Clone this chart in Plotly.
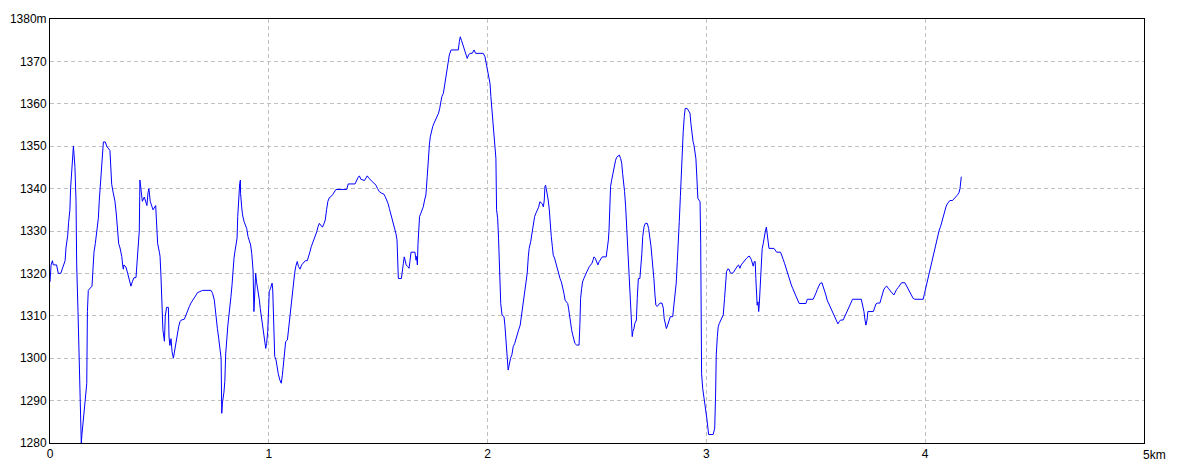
import plotly.graph_objects as go

# distance along route (m) and elevation (m)
dist_m = [0, 5, 11, 15, 30, 38, 49, 61, 69, 73, 81, 85, 91, 94, 99, 104, 107, 110, 114, 119, 122, 128, 133, 137, 140, 143, 146, 152, 158, 163, 168, 171, 175, 192, 197, 201, 207, 212, 216, 221, 225, 230, 236, 241, 244, 253, 259, 274, 279, 282, 289, 297, 303, 308, 314, 320, 328, 332, 335, 338, 347, 355, 360, 366, 370, 376, 384, 393, 396, 401, 405, 408, 411, 416, 422, 431, 437, 443, 448, 452, 458, 465, 471, 483, 488, 492, 500,
          503, 507, 512, 516, 523, 527, 533, 541, 544, 548, 553, 558, 564, 570, 576, 582, 588, 594, 600, 614, 621, 629, 637, 644, 652, 660, 667, 675, 685, 697, 736, 743, 751, 758, 765, 771, 775, 782, 785, 788, 795, 799, 803, 808, 813, 818, 823, 827, 832, 836, 841, 845, 850, 855, 858, 862, 867, 870, 871, 876, 880, 887, 893, 899, 905, 911, 917, 922, 928, 932, 935, 940, 944, 951, 957, 961, 966, 970, 975, 980, 986, 990, 995, 999, 1002, 1008, 1015, 1018, 1021,
          1027, 1033, 1037, 1043, 1050, 1057, 1062, 1068, 1072, 1077, 1085, 1089, 1095, 1100, 1104, 1109, 1114, 1118, 1123, 1130, 1136, 1143, 1150, 1158, 1167, 1176, 1182, 1188, 1194, 1200, 1206, 1213, 1219, 1225, 1231, 1237, 1245, 1252, 1258, 1264, 1270, 1277, 1284, 1292, 1299, 1307, 1356, 1363, 1394, 1401, 1409, 1414, 1421, 1437, 1444, 1450, 1458, 1466, 1473, 1481, 1490, 1497, 1505, 1516, 1526, 1532, 1539, 1545, 1551, 1557, 1563, 1569, 1575, 1581, 1586,
          1589, 1592, 1606, 1610, 1615, 1619, 1624, 1628, 1635, 1641, 1645, 1650, 1668, 1673, 1676, 1679, 1682, 1685, 1689, 1695, 1702, 1706, 1712, 1718, 1724, 1729, 1734, 1738, 1743, 1749, 1755, 1763, 1770, 1776, 1781, 1785, 1791, 1798, 1802, 1807, 1811, 1816, 1820, 1825, 1833, 1866, 1871, 1875, 1881, 1887, 1894, 1901, 1907, 1913, 1919, 1930, 1938, 1945, 1980, 1988, 1994, 2000, 2006, 2011, 2015, 2020, 2025, 2029, 2034, 2038, 2041, 2046, 2050, 2055, 2060, 2066, 2075, 2079, 2084, 2090, 2094, 2099, 2105, 2111, 2117, 2124, 2130, 2136, 2142, 2149,
          2154, 2159, 2163, 2169, 2175, 2181, 2186, 2190, 2197, 2201, 2206, 2210, 2215, 2221, 2227, 2233, 2239, 2244, 2250, 2255, 2259, 2262, 2265, 2268, 2273, 2277, 2282, 2286, 2291, 2296, 2300, 2306, 2312, 2318, 2325, 2331, 2337, 2343, 2349, 2354, 2360, 2366, 2370, 2375, 2380, 2384, 2389, 2393, 2399, 2407, 2418, 2422, 2425, 2430, 2434, 2440, 2446, 2453, 2459, 2465, 2471, 2477, 2483, 2486, 2492, 2498, 2504, 2510, 2517, 2524, 2542, 2547, 2552, 2555, 2558, 2562, 2567, 2571, 2576, 2581, 2585, 2590, 2596, 2602, 2608, 2613, 2617, 2622, 2626, 2631, 2635, 2640, 2645, 2649, 2654, 2658, 2661, 2664, 2669, 2673, 2680, 2684, 2689,
          2696, 2701, 2705, 2709, 2715, 2721, 2730, 2736, 2742, 2747, 2751, 2756, 2760, 2765, 2769, 2775, 2782, 2788, 2797, 2803, 2807, 2812, 2817, 2823, 2829, 2835, 2846, 2852, 2858, 2862, 2867, 2871, 2876, 2881, 2885, 2890, 2894, 2899, 2903, 2912, 2919, 2925, 2929, 2934, 2939, 2943, 2948, 2952, 2957, 2961, 2966, 2971, 2974, 2978, 2983, 2989, 2993, 2998, 3002, 3007, 3010, 3031, 3038, 3042, 3045, 3050, 3054, 3059, 3065, 3071, 3077, 3083, 3088, 3092, 3097, 3103, 3109, 3117, 3123, 3129, 3135, 3141, 3147, 3153, 3159, 3166, 3172, 3178, 3184, 3190, 3196,
          3205, 3210, 3214, 3219, 3223, 3226, 3230, 3232, 3236, 3239, 3242, 3245, 3248, 3252, 3255, 3260, 3264, 3269, 3274, 3278, 3281, 3286, 3309, 3315, 3321, 3339, 3345, 3351, 3357, 3364, 3370, 3376, 3382, 3388, 3394, 3400, 3406, 3412, 3418, 3424, 3455, 3461, 3488, 3495, 3501, 3507, 3513, 3519, 3528, 3534, 3540, 3546, 3552, 3559, 3565, 3571, 3577, 3583, 3589, 3595, 3601, 3607, 3613, 3625, 3632, 3638, 3644, 3650, 3656, 3662, 3668, 3708, 3714, 3720, 3725, 3729, 3734, 3738, 3763, 3769, 3775, 3781, 3793,
          3799, 3804, 3810, 3817, 3824, 3831, 3839, 3848, 3857, 3863, 3869, 3877, 3884, 3892, 3907, 3915, 3923, 3930, 3938, 3945, 3953, 3991, 3997, 4003, 4009, 4016, 4022, 4028, 4034, 4040, 4046, 4052, 4058, 4064, 4070, 4076, 4082, 4089, 4095, 4101, 4107, 4113, 4125, 4131, 4137, 4144, 4150, 4154, 4159, 4162, 4165]

elev_m = [1318, 1322, 1323, 1322, 1322, 1320, 1320, 1322, 1323, 1326, 1329, 1332, 1335, 1340, 1345, 1348, 1350, 1348, 1345, 1337, 1322, 1311, 1302, 1293, 1285, 1280, 1282, 1285, 1288, 1291, 1294, 1311, 1316, 1317, 1322, 1325, 1327, 1329, 1331, 1333, 1337, 1341, 1344, 1348, 1351, 1351, 1350, 1349, 1345, 1341, 1339, 1337, 1334, 1330, 1327, 1326, 1324, 1322, 1321, 1322, 1321.5, 1320, 1319, 1318, 1317, 1318, 1319, 1319, 1321, 1324, 1327, 1330, 1342, 1339, 1337, 1338, 1337, 1336, 1339, 1340, 1337, 1336, 1335, 1336, 1331, 1327, 1325,
          1324, 1319.6, 1311.4, 1306.7, 1304, 1310, 1312, 1312, 1305, 1303, 1304.6, 1301.5, 1300, 1302, 1303.5, 1305.5, 1307.4, 1308.6, 1309, 1309.2, 1310.2, 1311.4, 1312.2, 1313, 1313.7, 1314.5, 1315.1, 1315.5, 1315.7, 1316, 1316, 1315.3, 1313.7, 1309.8, 1307, 1304.7, 1302.3, 1300, 1287, 1289.4, 1292, 1294.5, 1301, 1305, 1307.8, 1310.2, 1312.2, 1314.5, 1317.3, 1320.8, 1323.6, 1325.1, 1326.7, 1328.3, 1333.4, 1338.9, 1341.2, 1342, 1338.9, 1335.7, 1333.8, 1332.2, 1331.3, 1330.6, 1328.7, 1327.5, 1326.7, 1324.7, 1320.8, 1311, 1315.3, 1320, 1318, 1316, 1313.7, 1311.7, 1309.8, 1308.2, 1306.3, 1303.9, 1302.3, 1303.5, 1306.3, 1311.4, 1315.7, 1316.5, 1317.7, 1316.1, 1309.8,
          1300.4, 1299.6, 1298, 1296.4, 1294.9, 1294.1, 1296, 1298.8, 1301.9, 1303.9, 1304.3, 1306.3, 1308.6, 1311.4, 1314.1, 1316.5, 1318.8, 1320, 1321.6, 1322.8, 1321.6, 1321, 1322, 1322.4, 1323, 1323, 1323.9, 1325.1, 1326.3, 1327.1, 1327.9, 1328.7, 1329.8, 1331, 1331.8, 1331.4, 1330.9, 1331.7, 1332.6, 1335, 1337, 1337.9, 1338.1, 1338.6, 1339.3, 1339.8, 1339.8, 1341.1, 1341.1, 1342, 1342.7, 1343, 1342.2, 1341.9, 1342.6, 1343, 1342.4, 1342, 1341.6, 1341.2, 1340.8, 1340, 1339.3, 1338.9, 1338.7, 1338.1, 1337.3, 1336.5, 1335.3, 1334.2, 1333, 1331.8, 1330.6, 1329.4, 1327.9,
          1323.9, 1318.8, 1318.8, 1321.2, 1322.4, 1323.9, 1323.1, 1322, 1321.6, 1321.2, 1322.8, 1325, 1325, 1323.1, 1324, 1322, 1327.1, 1332.2, 1333.4, 1334.2, 1335, 1335.7, 1337.3, 1338.5, 1342.8, 1348.3, 1350.3, 1352.2, 1353.4, 1354.6, 1355.4, 1356.2, 1357, 1357.8, 1358.9, 1360.5, 1361.7, 1362.5, 1363.9, 1365.6, 1367.2, 1368.8, 1370.3, 1371.5, 1372.7, 1372.7, 1374.7, 1375.8, 1374.9, 1373.9, 1373.1, 1372.1, 1370.7, 1371.5, 1371.9, 1371.9, 1372.7, 1371.9, 1371.9, 1371.1, 1369.2, 1367.6, 1366.4, 1364.8, 1361.7, 1358.1, 1354.6, 1351.9, 1349.5, 1347.1, 1335, 1333, 1328.3, 1319.2, 1312.9, 1310.2, 1309.8, 1307.8, 1303.1, 1300, 1297.2, 1298.8, 1300, 1300.8, 1302.7, 1303.5, 1304.7, 1305.5, 1306.7, 1307.8,
          1309.8, 1312.2, 1314.1, 1316.1, 1317.7, 1320, 1323.9, 1325.9, 1327.5, 1329.1, 1330.2, 1331.8, 1333.4, 1334.2, 1334.8, 1335.6, 1336.9, 1336.7, 1336.4, 1335.7, 1337.3, 1340.5, 1340.8, 1340, 1338.9, 1337.3, 1335, 1331.4, 1328.7, 1326.3, 1324.3, 1323.6, 1322.4, 1320.8, 1319.6, 1318.8, 1318, 1316.9, 1315.3, 1313.7, 1313.3, 1312.9, 1311.8, 1309.4, 1307.4, 1306.7, 1305.5, 1304.7, 1303.5, 1303.1, 1303.1, 1308.2, 1314.1, 1316.5, 1318, 1318.8, 1319.6, 1320.4, 1321, 1321.6, 1322, 1322.4, 1323.3, 1323.9, 1323.6, 1322.8, 1322, 1322.8, 1323.3, 1323.9, 1323.9, 1325.5, 1327.9, 1330.2, 1335.7, 1340.5, 1342, 1343.2, 1344.4, 1345.6, 1346.7, 1347.4, 1347.7, 1347.9, 1347.1, 1346, 1343.6, 1341.6, 1339.3, 1335.7, 1331.4, 1327.1, 1320.4, 1314.5, 1310.2, 1307.8, 1305.1, 1306.3, 1307, 1308.2, 1309, 1314.1, 1318.8,
          1318.8, 1321.6, 1324.7, 1328.7, 1331, 1331.8, 1331.8, 1330.6, 1328.7, 1326.3, 1323.9, 1321.6, 1318.8, 1314.9, 1312.5, 1312.2, 1312.8, 1313, 1313, 1311.8, 1309.4, 1307.8, 1307, 1307.8, 1309, 1309.8, 1309.8, 1312.5, 1315.3, 1317.7, 1322.8, 1328.7, 1332.2, 1338.1, 1343.6, 1346.4, 1353.4, 1357, 1358.9, 1358.9, 1358.4, 1357.8, 1355.4, 1352.2, 1351.1, 1350.3, 1348.7, 1347.1, 1342, 1337.7, 1337.3, 1336.9, 1327.1, 1296.4, 1292.9, 1290.9, 1289, 1287.8, 1285.8, 1283.5, 1282, 1282, 1283.5, 1291.3, 1300.8, 1305.1, 1307.4, 1308.2, 1309, 1309.6, 1310.2, 1314.1, 1318.8, 1320.4, 1321, 1321, 1320.2, 1320, 1320.2, 1320.8, 1321.2, 1321.7, 1322, 1321.2, 1322, 1322.5, 1323, 1323.2, 1323.6, 1323.9, 1324.1,
          1323.3, 1322.4, 1321.7, 1322.8, 1322.8, 1318.8, 1314.1, 1312.5, 1313.3, 1311, 1313, 1316.9, 1320, 1323.2, 1325.9, 1327.1, 1328.7, 1329.8, 1330.9, 1329.4, 1327.1, 1325.9, 1325.9, 1325.5, 1325, 1325, 1324.3, 1323.3, 1322.4, 1321.2, 1320, 1319.2, 1318, 1317.3, 1316.5, 1315.7, 1314.9, 1314.1, 1313.3, 1312.9, 1312.9, 1313.9, 1313.9, 1314.6, 1315.4, 1316.2, 1317, 1317.6, 1317.8, 1316.9, 1316.1, 1314.9, 1313.7, 1312.9, 1312.2, 1311.4, 1310.6, 1310, 1309.2, 1308.6, 1308.1, 1308.6, 1309, 1309, 1309.8, 1310.6, 1311.4, 1312.2, 1312.9, 1313.6, 1313.9, 1313.9, 1312.5, 1311, 1309, 1307.8, 1309, 1311, 1311, 1312.2, 1312.8, 1313, 1313,
          1314.1, 1315.3, 1316.1, 1316.7, 1317, 1316.5, 1315.9, 1315.4, 1314.9, 1315.7, 1316.2, 1316.7, 1317.2, 1317.8, 1317.8, 1317, 1316.1, 1315.4, 1314.9, 1314.1, 1313.9, 1313.9, 1315.3, 1316.7, 1318, 1319.4, 1320.8, 1322.2, 1323.6, 1325, 1326.3, 1327.9, 1329.4, 1330.2, 1331, 1332.2, 1333.5, 1334.9, 1335.7, 1336.4, 1336.7, 1337.2, 1337.2, 1337.5, 1337.8, 1338.3, 1338.7, 1339, 1340, 1342, 1342.8]

x_ticks = [0, 1, 2, 3, 4]
x_labels = ["0", "1", "2", "3", "4"]
y_ticks = [1280, 1290, 1300, 1310, 1320, 1330, 1340, 1350, 1360, 1370, 1380]
y_labels = ["1280", "1290", "1300", "1310", "1320", "1330", "1340", "1350", "1360", "1370", "1380m"]

dist_km = [d / 1000 for d in dist_m]

fig = go.Figure()
fig.add_trace(go.Scatter(
    x=dist_km, y=elev_m, mode="lines",
    line=dict(color="#0000ff", width=1),
    hoverinfo="skip", showlegend=False,
))

font = dict(family="Liberation Sans, Arial, sans-serif", size=12, color="#000000")

# the page body has an 8px margin, so the figure is offset by 8px
fig.update_layout(
    width=1176, height=465,
    margin=dict(l=42, r=40, t=11, b=30, autoexpand=False),
    paper_bgcolor="#ffffff", plot_bgcolor="#ffffff",
    font=font,
    xaxis=dict(
        range=[0, 5], tickvals=x_ticks, ticktext=x_labels, automargin=False,
        showgrid=True, gridcolor="#c0c0c0", griddash="4px,3px", gridwidth=1,
        showline=True, linecolor="#000000", linewidth=1, mirror=True,
        zeroline=False, ticks="", tickfont=font,
    ),
    yaxis=dict(
        range=[1280, 1380], tickvals=y_ticks, ticktext=y_labels, automargin=False,
        showgrid=True, gridcolor="#c0c0c0", griddash="4px,3px", gridwidth=1,
        showline=True, linecolor="#000000", linewidth=1, mirror=True,
        zeroline=False, ticks="", tickfont=font,
    ),
    annotations=[dict(
        x=5, y=0, xref="x", yref="paper", text="5km", showarrow=False,
        xanchor="left", yanchor="top", yshift=-3, xshift=-3, font=font,
    )],
)

fig.write_html("out.html")
